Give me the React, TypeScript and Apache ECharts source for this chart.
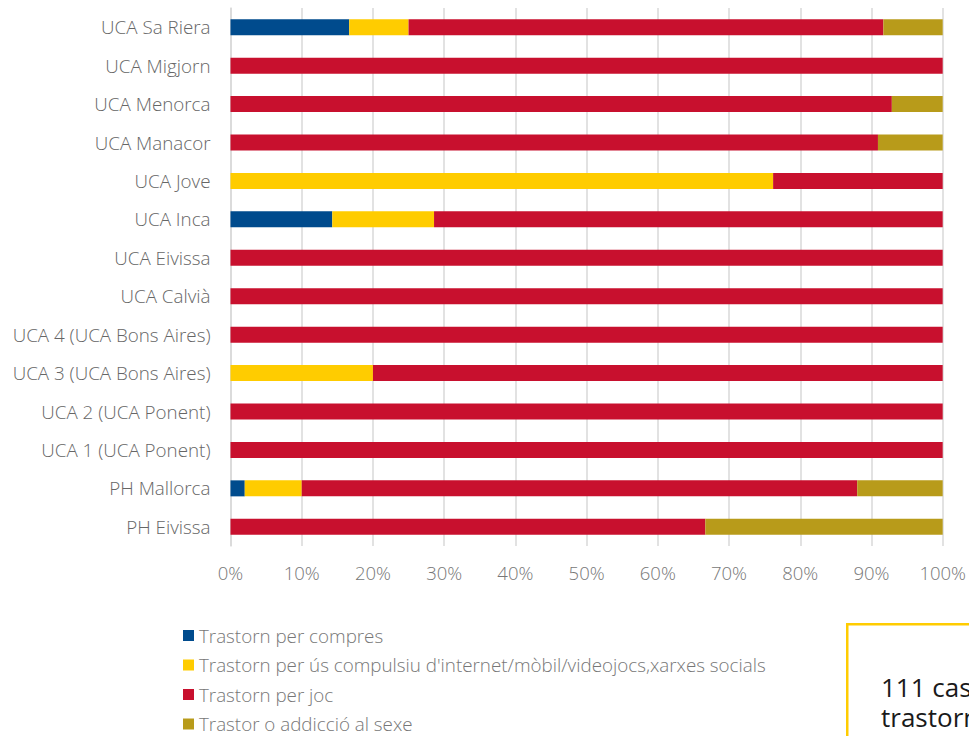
import React, { useEffect, useRef } from "react";
import * as echarts from "echarts";

const categories = [
  "UCA Sa Riera",
  "UCA Migjorn",
  "UCA Menorca",
  "UCA Manacor",
  "UCA Jove",
  "UCA Inca",
  "UCA Eivissa",
  "UCA Calvià",
  "UCA 4 (UCA Bons Aires)",
  "UCA 3 (UCA Bons Aires)",
  "UCA 2 (UCA Ponent)",
  "UCA 1 (UCA Ponent)",
  "PH Mallorca",
  "PH Eivissa",
];

const seriesNames = [
  "Trastorn per compres",
  "Trastorn per ús compulsiu d'internet/mòbil/videojocs,xarxes socials",
  "Trastorn per joc",
  "Trastor o addicció al sexe",
];

const compres = [16.67, 0, 0, 0, 0, 14.29, 0, 0, 0, 0, 0, 0, 2, 0];
const internet = [8.33, 0, 0, 0, 76.19, 14.29, 0, 0, 0, 20, 0, 0, 8, 0];
const joc = [66.67, 100, 92.86, 90.91, 23.81, 71.42, 100, 100, 100, 80, 100, 100, 78, 66.67];
const sexe = [8.33, 0, 7.14, 9.09, 0, 0, 0, 0, 0, 0, 0, 0, 12, 33.33];

const boxLines = ["111 casos", "trastorns"];

const colors = ["#004b8d", "#ffcc00", "#c8102e", "#b89b1a"];

export default function App() {
  const ref = useRef<HTMLDivElement>(null);
  useEffect(() => {
    if (!ref.current) return;
    const chart = echarts.init(ref.current, null, { renderer: "svg" });
    const values = [compres, internet, joc, sexe];
    chart.setOption({
      animation: false,
      textStyle: { fontFamily: "Open Sans" },
      grid: { left: 230.5, right: 21.5, top: 8, bottom: 190, containLabel: false },
      xAxis: {
        type: "value",
        min: 0,
        max: 100,
        interval: 10,
        axisLabel: {
          formatter: "{value}%",
          color: "#777777",
          fontSize: 18.5,
          fontWeight: 300,
          margin: 17,
          fontFamily: "Open Sans",
        },
        axisLine: { show: false },
        axisTick: { show: false },
        splitLine: { show: true, lineStyle: { color: "#d9d9d9", width: 1.5 } },
      },
      yAxis: {
        type: "category",
        data: categories,
        inverse: true,
        axisLabel: {
          color: "#666666",
          fontSize: 18.8,
          fontWeight: 300,
          margin: 20,
          fontFamily: "Open Sans",
        },
        axisLine: { show: true, lineStyle: { color: "#d9d9d9", width: 1.5 } },
        axisTick: { show: false },
      },
      legend: {
        orient: "vertical",
        left: 183,
        top: 626,
        padding: 0,
        itemWidth: 11,
        itemHeight: 11,
        itemGap: 10.5,
        icon: "rect",
        textStyle: { color: "#777777", fontSize: 18.8, fontWeight: 300, fontFamily: "Open Sans" },
        data: seriesNames,
      },
      series: seriesNames.map((name, i) => ({
        name,
        type: "bar",
        stack: "total",
        barWidth: 16,
        data: values[i],
        itemStyle: { color: colors[i] },
      })),
      graphic: [
        {
          type: "rect",
          left: 846,
          top: 623,
          shape: { width: 200, height: 200 },
          style: { fill: "#ffffff", stroke: "#ffcc00", lineWidth: 2.5 },
        },
        ...boxLines.map((t, i) => ({
          type: "text",
          left: 881,
          top: 674 + i * 30,
          style: {
            text: t,
            fill: "#1a1a1a",
            fontSize: 26,
            fontFamily: "Open Sans",
          },
        })),
      ],
    });
    return () => chart.dispose();
  }, []);
  return (
    <div
      ref={ref}
      style={{ position: "fixed", left: 0, top: 0, width: 969, height: 736, background: "#fff" }}
    />
  );
}
